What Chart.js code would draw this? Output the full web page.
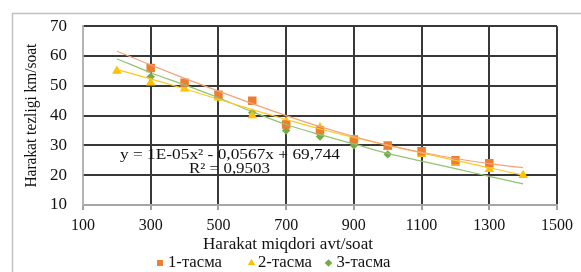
<!DOCTYPE html>
<html>
<head>
<meta charset="utf-8">
<script src="https://cdn.jsdelivr.net/npm/chart.js@4.4.1/dist/chart.umd.min.js"></script>
<style>
html, body { margin: 0; padding: 0; background: #fff; }
</style>
</head>
<body>
<canvas id="chart" width="581" height="272"></canvas>
<script>
// data
const seriesNames = ['1-тасма', '2-тасма', '3-тасма'];
const x1 = [300, 400, 500, 600, 700, 800, 900, 1000, 1100, 1200, 1300];
const y1 = [56, 51, 47, 45, 37, 35, 32, 30, 28, 25, 24];
const x2 = [200, 300, 400, 500, 600, 700, 800, 900, 1000, 1100, 1200, 1300, 1400];
const y2 = [55, 51, 49, 46, 40, 38, 36, 32, 29.5, 27, 24, 22, 20];
const x3 = [300, 400, 500, 600, 700, 800, 900, 1000];
const y3 = [53, 50, 46, 41, 35, 33, 30, 27];

// trend lines (read at every 100)
const trendX = [200, 300, 400, 500, 600, 700, 800, 900, 1000, 1100, 1200, 1300, 1400];
const trend1 = [61.6, 57.0, 52.5, 48.2, 44.0, 40.0, 36.3, 33.0, 30.1, 27.7, 25.6, 23.9, 22.5];
const trend2 = [55.5, 52.3, 49.0, 45.5, 42.0, 38.7, 35.5, 32.7, 30.0, 27.5, 25.0, 22.5, 20.0];
const trend3 = [59.1, 54.4, 50.3, 46.0, 41.3, 37.0, 33.6, 30.5, 27.3, 24.7, 22.2, 19.6, 17.1];

const xTicks = [100, 300, 500, 700, 900, 1100, 1300, 1500];
const xTitle = 'Harakat miqdori avt/soat';
const yTitle = 'Harakat tezligi km/soat';
const equation = 'y = 1E-05x² - 0,0567x + 69,744';
const rSquared = 'R² = 0,9503';

const colors = ['#ED7D31', '#FFC000', '#70AD47'];
const trendColors = ['#F3A37A', '#FFC820', '#92C46F'];
const FONT = "'Liberation Serif', 'Times New Roman', serif";

function toPoints(xs, ys) {
    return xs.map((x, i) => ({ x: x, y: ys[i] }));
}

function trendSet(ys, color) {
    return {
        type: 'line',
        data: toPoints(trendX, ys),
        borderColor: color,
        borderWidth: 1.2,
        pointRadius: 0,
        fill: false,
        cubicInterpolationMode: 'monotone',
        order: 0
    };
}

function markerSet(label, xs, ys, style, radius, color) {
    return {
        label: label,
        data: toPoints(xs, ys),
        pointStyle: style,
        pointRadius: radius,
        pointBackgroundColor: color,
        pointBorderColor: color,
        pointBorderWidth: 0,
        showLine: false,
        order: 1
    };
}

// text squeezed/stretched to a given width (the original is a bit wide)
function fitText(ctx, text, cx, cy, width) {
    const w = ctx.measureText(text).width;
    ctx.save();
    ctx.translate(cx, cy);
    ctx.scale(width / w, 1);
    ctx.fillText(text, 0, 0);
    ctx.restore();
}

// outer frame, titles, equation and legend
const decor = {
    id: 'decor',
    beforeDraw(chart) {
        const ctx = chart.ctx;
        ctx.save();
        ctx.fillStyle = '#fff';
        ctx.fillRect(0, 0, chart.width, chart.height);
        ctx.strokeStyle = '#c0c0c0';
        ctx.lineWidth = 1.5;
        ctx.beginPath();
        ctx.moveTo(12.5, 272);
        ctx.lineTo(12.5, 13.5);
        ctx.lineTo(581, 13.5);
        ctx.stroke();
        ctx.restore();
    },
    afterDraw(chart) {
        const ctx = chart.ctx;
        const area = chart.chartArea;
        ctx.save();
        ctx.fillStyle = '#111';
        ctx.textBaseline = 'middle';
        ctx.textAlign = 'center';

        ctx.font = '15px ' + FONT;
        fitText(ctx, equation, 230, 155, 220);
        fitText(ctx, rSquared, 229.5, 169, 81);

        ctx.font = '16px ' + FONT;
        fitText(ctx, xTitle, 288, 245, 170);

        ctx.save();
        ctx.translate(32, (area.top + area.bottom) / 2);
        ctx.rotate(-Math.PI / 2);
        fitText(ctx, yTitle, 0, 0, 144);
        ctx.restore();

        // legend
        const items = [
            { style: 'rect', r: 4.2, mx: 160, tx: 195 },
            { style: 'triangle', r: 4.2, mx: 251.5, tx: 285 },
            { style: 'rectRot', r: 3.8, mx: 328.5, tx: 363.5 }
        ];
        items.forEach((it, i) => {
            ctx.fillStyle = colors[i];
            Chart.helpers.drawPoint(ctx, { pointStyle: it.style, radius: it.r, rotation: 0, borderWidth: 0 }, it.mx, 263);
            ctx.fillStyle = '#111';
            fitText(ctx, seriesNames[i], it.tx, 263, 54);
        });
        ctx.restore();
    }
};

const chart = new Chart(document.getElementById('chart'), {
    type: 'scatter',
    data: {
        datasets: [
            trendSet(trend1, trendColors[0]),
            trendSet(trend2, trendColors[1]),
            trendSet(trend3, trendColors[2]),
            markerSet(seriesNames[0], x1, y1, 'rect', 6, colors[0]),
            markerSet(seriesNames[1], x2, y2, 'triangle', 5.5, colors[1]),
            markerSet(seriesNames[2], x3, y3, 'rectRot', 4.2, colors[2])
        ]
    },
    options: {
        responsive: false,
        animation: false,
        devicePixelRatio: 1,
        layout: { padding: { left: 0, right: 24, top: 25, bottom: 0 } },
        plugins: {
            legend: { display: false },
            tooltip: { enabled: false }
        },
        scales: {
            x: {
                type: 'linear',
                min: 100,
                max: 1500,
                afterFit(scale) { scale.height = 67; },
                afterBuildTicks(scale) {
                    scale.ticks = xTicks.map(v => ({ value: v }));
                },
                ticks: {
                    color: '#111',
                    padding: 6,
                    maxRotation: 0,
                    callback: v => String(v),
                    font: { family: FONT, size: 16 }
                },
                grid: {
                    color: c => (c.tick && c.tick.value === 100) ? '#b5b5b5' : '#383838',
                    lineWidth: 2,
                    tickColor: '#a0a0a0',
                    tickLength: 5
                },
                border: { color: '#a6a6a6', width: 1.5 }
            },
            y: {
                min: 10,
                max: 70,
                afterFit(scale) { scale.width = 83; },
                ticks: {
                    stepSize: 10,
                    color: '#111',
                    padding: 16,
                    callback: v => String(v),
                    font: { family: FONT, size: 17 }
                },
                grid: {
                    color: c => (c.tick && c.tick.value === 10) ? '#a6a6a6' : '#383838',
                    lineWidth: 2,
                    drawTicks: false
                },
                border: { color: '#b5b5b5', width: 1.5 }
            }
        }
    },
    plugins: [decor]
});
</script>
</body>
</html>
